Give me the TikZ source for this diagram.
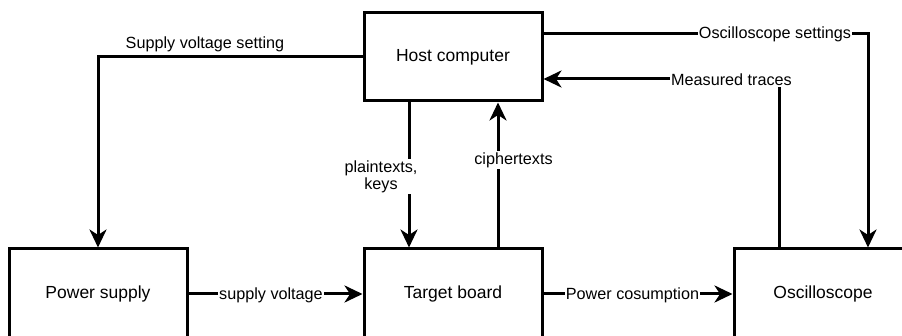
\documentclass[tikz,border=0pt]{standalone}
\usepackage{fontspec}
\setmainfont{Liberation Sans}
\usetikzlibrary{arrows.meta}

\tikzset{
  block/.style={draw=black, line width=3pt, fill=white, minimum width=178pt,
    inner sep=0pt, font=\fontsize{17.5}{20}\selectfont},
  arr/.style={draw=black, line width=3pt,
    -{Stealth[length=18pt, width=17pt, inset=5.5pt]}},
  elabel/.style={fill=white, inner sep=1pt, font=\fontsize{16.2}{19}\selectfont, align=center},
  tlabel/.style={inner sep=1pt, font=\fontsize{16.2}{19}\selectfont}
}

\begin{document}
\begin{tikzpicture}[x=1pt, y=-1pt]
  \useasboundingbox (0,0) rectangle (902,336);
  \clip (0,0) rectangle (902,336);

  % blocks
  \node[block, minimum height=88pt] (host) at (453,57) {Host computer};
  \node[block, minimum height=90pt] (ps)   at (98,294)  {Power supply};
  \node[block, minimum height=90pt] (tb)   at (453,294) {Target board};
  \node[block, minimum height=90pt] (osc)  at (823,294) {Oscilloscope};

  % host -> power supply
  \draw[arr] (host.west) -| (ps.north);
  \node[tlabel] (lsvs) at (205,44) {Supply voltage setting};

  % host -> target board
  \draw[arr] ([xshift=-44pt]host.south) -- ([xshift=-44pt]tb.north);
  \node[elabel] (lpk) at (381,176.5) {plaintexts,\\[-2pt]keys};

  % target board -> host
  \draw[arr] ([xshift=45pt]tb.north) -- ([xshift=45pt]host.south);
  \node[elabel] (lct) at (513.5,160) {ciphertexts};

  % host -> oscilloscope
  \coordinate (oscorner) at (868,34);
  \draw[arr] (host.east |- oscorner) -- (oscorner) -- (oscorner |- osc.north);
  \node[elabel] (los) at (775,34) {Oscilloscope settings};

  % oscilloscope -> host
  \coordinate (mtcorner) at (779,79);
  \draw[arr] (mtcorner |- osc.north) -- (mtcorner) -- (host.east |- mtcorner);
  \node[elabel] (lmt) at (731.5,80) {Measured traces};

  % power supply -> target board
  \draw[arr] (ps.east) -- (tb.west);
  \node[elabel] (lsv) at (271,295) {supply voltage};

  % target board -> oscilloscope
  \draw[arr] (tb.east) -- (osc.west);
  \node[elabel] (lpc) at (632.5,295) {Power cosumption};
\end{tikzpicture}
\end{document}
